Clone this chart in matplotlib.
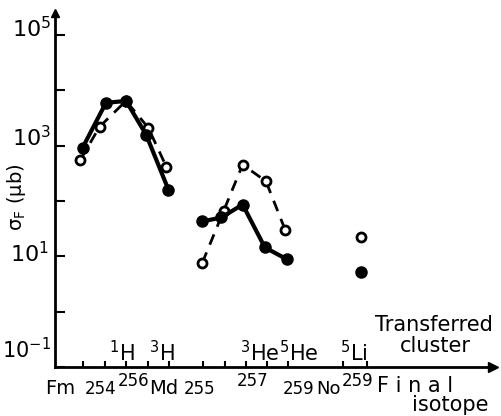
import matplotlib
matplotlib.use("Agg")
import matplotlib.pyplot as plt
import numpy as np

# ---- data (x in tick-slot units, y = sigma_F in microbarn) ----
tick_pos = [1.3, 2.35, 3.35, 4.4, 5.4, 7.0, 8.0, 9.0, 10.0, 11.0, 13.6, 14.7]

solid1_x = [1.3, 2.4, 3.35, 4.3, 5.35]
solid1_y = [920, 5960, 6470, 1580, 161]
dash1_x = [1.2, 2.1, 3.35, 4.4, 5.25]
dash1_y = [560, 2200, 6470, 2110, 419]

solid2_x = [6.95, 7.85, 8.85, 9.9, 10.95]
solid2_y = [42.8, 50.5, 86.5, 14.5, 8.8]
dash2_x = [6.95, 7.95, 8.85, 9.95, 10.85]
dash2_y = [7.7, 65.6, 455, 228, 30.6]

iso_x = [14.45]
iso_solid_y = [5.15]
iso_open_y = [22.0]

W, H = 501, 416
plt.rcParams["mathtext.default"] = "regular"
fig = plt.figure(figsize=(W / 100, H / 100), dpi=100)
ax = fig.add_axes([55 / W, (H - 367) / H, (493 - 55) / W, (367 - 13) / H])
ax.set_yscale("log")
ax.set_xlim(0, (493 - 55) / 21.2)
ax.set_ylim(10 ** -0.98, 10 ** 5.4)

FS = dict(family="DejaVu Sans")

# series
ax.plot(solid1_x, solid1_y, "-", color="black", lw=3, marker="o", ms=8,
        mfc="black", mec="black", zorder=3)
ax.plot(dash1_x, dash1_y, "--", color="black", lw=2, dashes=(4, 3), marker="o",
        ms=6.5, mfc="white", mec="black", mew=2, zorder=2)
ax.plot(solid2_x, solid2_y, "-", color="black", lw=3, marker="o", ms=8,
        mfc="black", mec="black", zorder=3)
ax.plot(dash2_x, dash2_y, "--", color="black", lw=2, dashes=(4, 3), marker="o",
        ms=6.5, mfc="white", mec="black", mew=2, zorder=2)
ax.plot(iso_x, iso_solid_y, "o", color="black", ms=8)
ax.plot(iso_x, iso_open_y, "o", ms=6.5, mfc="white", mec="black", mew=2)

# axes styling
for s in ["top", "right"]:
    ax.spines[s].set_visible(False)
for s in ["left", "bottom"]:
    ax.spines[s].set_linewidth(2)
ax.set_xticks(tick_pos)
ax.set_xticklabels([])
ax.tick_params(axis="x", direction="in", length=4, width=1.5)
ax.set_yticks([10 ** k for k in range(-1, 6)])
ax.set_yticklabels([])
ax.yaxis.set_minor_locator(matplotlib.ticker.NullLocator())
ax.tick_params(axis="y", direction="in", length=7, width=1.5)
# arrow heads
ax.plot([1], [0], marker=">", ms=7, color="black", transform=ax.transAxes, clip_on=False)
ax.plot([0], [1], marker="^", ms=6, color="black", transform=ax.transAxes, clip_on=False)

def T(x, y, s, ha="center", va="baseline", size=14, **kw):
    fig.text(x / W, 1 - y / H, s, ha=ha, va=va, fontsize=size, **FS, **kw)

# y tick labels
T(51, 37, r"10$^5$", ha="right", size=16)
T(51, 146, r"10$^3$", ha="right", size=16)
T(49, 262, r"10$^1$", ha="right", size=16)
T(51, 358, r"10$^{-1}$", ha="right", size=15)

# y label
fig.text(17 / W, 1 - 197 / H, r"$\sigma_F$ (μb)", rotation=90, ha="center",
         va="center", fontsize=14, **FS)

# transferred cluster labels
T(122, 361, r"$^1$H", size=15)
T(162, 361, r"$^3$H", size=15)
T(260, 361, r"$^3$He", size=15)
T(299, 361, r"$^5$He", size=15)
T(354, 361, r"$^5$Li", size=15)
T(434, 331, "Transferred", size=15)
T(435, 352, "cluster", size=15)

# final isotope labels
NS = 12
T(60, 394, "Fm", size=14)
T(101, 394, "254", size=NS)
T(134, 386, "256", size=NS)
T(164, 394, "Md", size=14)
T(200, 394, "255", size=NS)
T(253, 386, "257", size=NS)
T(299, 394, "259", size=NS)
T(329, 394, "No", size=13)
T(358, 386, "259", size=NS)
T(415, 392, "F i n a l", size=15)
T(450, 411, "isotope", size=15)

fig.savefig("out.png", dpi=100)
